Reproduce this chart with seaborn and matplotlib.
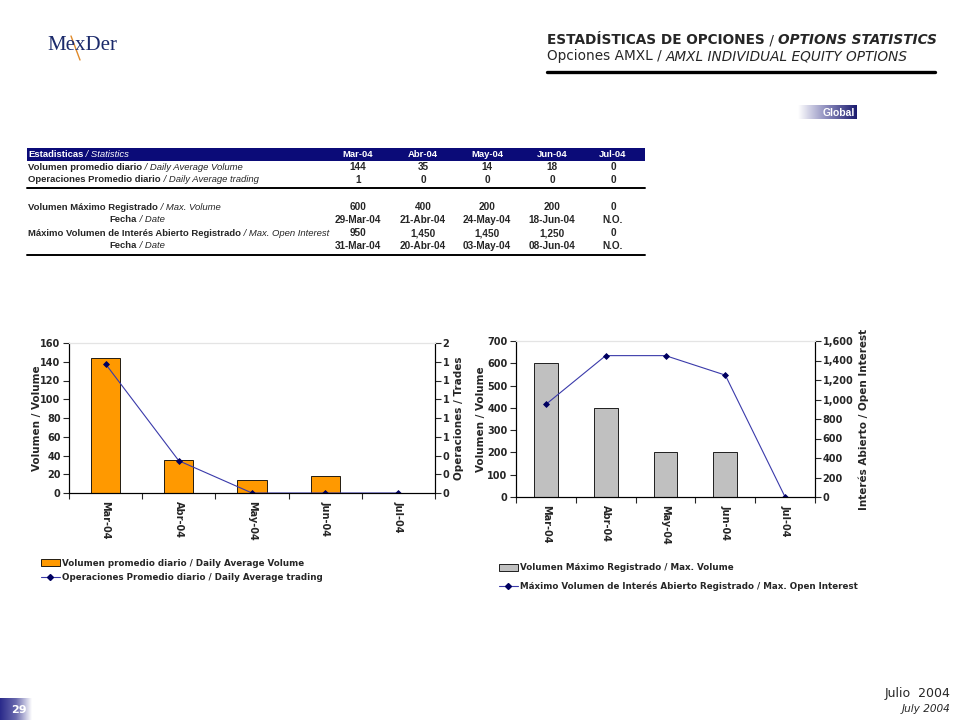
import matplotlib
matplotlib.use("Agg")
import matplotlib.pyplot as plt
from matplotlib.patches import Patch, Rectangle
from matplotlib.lines import Line2D
import numpy as np
import seaborn as sns

# data
months = ['Mar-04', 'Abr-04', 'May-04', 'Jun-04', 'Jul-04']
avg_volume = [144, 35, 14, 18, 0]
avg_trades_tbl = [1, 0, 0, 0, 0]
avg_trades = [1.72, 0.43, 0, 0, 0]
max_volume = [600, 400, 200, 200, 0]
max_vol_date = ['29-Mar-04', '21-Abr-04', '24-May-04', '18-Jun-04', 'N.O.']
max_oi = [950, 1450, 1450, 1250, 0]
max_oi_date = ['31-Mar-04', '20-Abr-04', '03-May-04', '08-Jun-04', 'N.O.']

vol_ticks = [0, 20, 40, 60, 80, 100, 120, 140, 160]
trade_ticks = [0, 0.25, 0.5, 0.75, 1, 1.25, 1.5, 1.75, 2]
trade_ticklabels = ['0', '0', '0', '1', '1', '1', '1', '1', '2']
maxvol_ticks = [0, 100, 200, 300, 400, 500, 600, 700]
oi_ticks = [0, 200, 400, 600, 800, 1000, 1200, 1400, 1600]

sns.set_style('white')
plt.rcParams['font.family'] = ['DejaVu Sans']

W, H = 960, 720
fig = plt.figure(figsize=(9.6, 7.2), dpi=100)
renderer = fig.canvas.get_renderer()
NAVY = '#0B0B78'
LINE_C = '#3A3AAA'
MARK_C = '#000060'
NARROW = ['Liberation Sans', 'DejaVu Sans']


def fx(x):
    return x / W


def fy(y):
    return 1 - y / H


def runs(x, y, parts, ha='left', **kw):
    # draw text pieces one after another with different styles
    x0 = x
    items = []
    for txt, st in parts:
        t = fig.text(fx(x0), fy(y), txt, va='center', ha='left', **kw, **st)
        w = t.get_window_extent(renderer).width
        items.append(t)
        x0 += w
    if ha != 'left':
        total = x0 - x
        shift = total if ha == 'right' else total / 2
        for t in items:
            px, py = t.get_position()
            t.set_position((px - shift / W, py))


# header
runs(547, 40, [('ESTADÍSTICAS DE OPCIONES', dict(weight='bold')),
               (' / ', dict()),
               ('OPTIONS STATISTICS', dict(weight='bold', style='italic'))],
     fontsize=9.8)
runs(547, 56, [('Opciones AMXL / ', dict()),
               ('AMXL INDIVIDUAL EQUITY OPTIONS', dict(style='italic'))],
     fontsize=9.8)
fig.add_artist(Line2D([fx(547), fx(935)], [fy(72), fy(72)], color='black', lw=2.4))

# logo
fig.text(fx(47), fy(45), 'MexDer', family=['Liberation Serif'], fontsize=15,
         color='#1B2A6B', va='center', ha='left')
fig.add_artist(Line2D([fx(71), fx(80)], [fy(36), fy(60)], color='#E08A2A', lw=1.0))

# Global badge
gax = fig.add_axes([fx(798), fy(119), fx(59), 14 / H])
grad = np.linspace(0, 1, 256).reshape(1, -1)
gax.imshow(grad, aspect='auto', cmap=matplotlib.colors.LinearSegmentedColormap.from_list(
    'g', ['#FFFFFF', '#8888BB', '#1A1A6E']), extent=[0, 1, 0, 1])
gax.set_axis_off()
gax.text(0.96, 0.45, 'Global', color='white', weight='bold', fontsize=7.5,
         ha='right', va='center', family=NARROW, transform=gax.transAxes)

# page number
pax = fig.add_axes([0, 0, fx(32), 22 / H])
pax.imshow(grad, aspect='auto', cmap=matplotlib.colors.LinearSegmentedColormap.from_list(
    'p', ['#2A2A8A', '#6A6AAE', '#FFFFFF']), extent=[0, 1, 0, 1])
pax.set_axis_off()
pax.text(0.6, 0.45, '29', color='white', weight='bold', fontsize=8,
         ha='center', va='center', transform=pax.transAxes)

fig.text(fx(950), fy(694), 'Julio  2004', ha='right', va='center', fontsize=9)
fig.text(fx(950), fy(709), 'July 2004', ha='right', va='center', fontsize=7.6, style='italic')

# table
col_x = [358, 423, 487, 552, 613]
fig.add_artist(Rectangle((fx(27), fy(161)), fx(618), 13 / H, color=NAVY, lw=0))
tfs = 6.8
vfs = 7.2
runs(28, 154.5, [('Estadisticas', dict(weight='bold')), (' / Statistics', dict(style='italic'))],
     fontsize=tfs, color='white', family=NARROW)
for cx, m in zip(col_x, months):
    fig.text(fx(cx), fy(154.5), m, color='white', weight='bold', fontsize=tfs,
             ha='center', va='center', family=NARROW)

rows = [
    (167, 'left', 'Volumen promedio diario', 'Daily Average Volume', [str(v) for v in avg_volume]),
    (180, 'left', 'Operaciones Promedio diario', 'Daily Average trading', [str(v) for v in avg_trades_tbl]),
    (207, 'left', 'Volumen Máximo Registrado', 'Max. Volume', [str(v) for v in max_volume]),
    (220, 'center', 'Fecha', 'Date', max_vol_date),
    (233, 'left', 'Máximo Volumen de Interés Abierto Registrado', 'Max. Open Interest', [f'{v:,}' for v in max_oi]),
    (246, 'center', 'Fecha', 'Date', max_oi_date),
]
for y, al, es, en, vals in rows:
    x = 28 if al == 'left' else 137
    runs(x, y, [(es, dict(weight='bold')), (' / ' + en, dict(style='italic'))],
         ha=al, fontsize=tfs, family=NARROW)
    for cx, v in zip(col_x, vals):
        fig.text(fx(cx), fy(y), v, weight='bold', fontsize=vfs, ha='center',
                 va='center', family=NARROW)
for y in (188, 255):
    fig.add_artist(Line2D([fx(27), fx(645)], [fy(y), fy(y)], color='black', lw=1.4))

FS = 7
LFS = 6.3


def style_axes(ax, ax2):
    ax.set_xlim(-0.5, len(months) - 0.5)
    ax.set_xticks(range(len(months)))
    ax.set_xticklabels(months, rotation=270, fontsize=FS, weight='bold')
    ax.set_xticks(np.arange(-0.5, len(months)), minor=True)
    ax.tick_params(axis='x', which='major', length=0, pad=6)
    ax.tick_params(axis='x', which='minor', length=4, width=0.8, direction='out', bottom=True)
    ax.tick_params(axis='y', length=4, width=0.8, direction='out', left=True, labelsize=FS, pad=2)
    ax2.tick_params(axis='y', length=4, width=0.8, direction='out', right=True, labelsize=FS, pad=1.5)
    for a in (ax, ax2):
        for lab in a.get_yticklabels():
            lab.set_weight('bold')
        for s in a.spines.values():
            s.set_linewidth(0.8)
            s.set_color('black')
    ax.spines['top'].set_color('#E4E4E4')
    ax2.spines['top'].set_color('#E4E4E4')
    ax.set_xlabel('')
    ax2.set_xlabel('')


# left chart
ax = fig.add_axes([fx(69), fy(493), fx(366), 150 / H])
sns.barplot(x=months, y=avg_volume, ax=ax, color='#FF9900', saturation=1,
            edgecolor='black', linewidth=0.6, width=0.4)
ax2 = ax.twinx()
sns.pointplot(x=months, y=avg_trades, ax=ax2, color=LINE_C, markers='D',
              markersize=3, linewidth=0.8, errorbar=None,
              markerfacecolor=MARK_C, markeredgecolor=MARK_C)
ax.set_ylim(0, 160)
ax.set_yticks(vol_ticks)
ax.set_yticklabels([str(v) for v in vol_ticks])
ax2.set_ylim(0, 2)
ax2.set_yticks(trade_ticks)
ax2.set_yticklabels(trade_ticklabels)
ax2.set_zorder(ax.get_zorder() + 1)
ax2.patch.set_visible(False)
style_axes(ax, ax2)
ax.set_ylabel('Volumen / Volume', fontsize=FS + 0.5, weight='bold', labelpad=-1)
ax2.set_ylabel('Operaciones / Trades', fontsize=FS + 0.5, weight='bold', labelpad=3)

h1 = [Patch(facecolor='#FF9900', edgecolor='black', linewidth=0.6),
      Line2D([], [], color=LINE_C, lw=0.8, marker='D', markersize=3,
             markerfacecolor=MARK_C, markeredgecolor=MARK_C)]
fig.legend(h1, ['Volumen promedio diario / Daily Average Volume',
                'Operaciones Promedio diario / Daily Average trading'],
           loc='upper left', bbox_to_anchor=(fx(37), fy(555)), frameon=False,
           prop=dict(size=LFS, weight='bold'), handlelength=2.2, handleheight=0.8,
           handletextpad=0.2, labelspacing=0.65, borderaxespad=0)

# right chart
bx = fig.add_axes([fx(516), fy(497), fx(299), 156 / H])
sns.barplot(x=months, y=max_volume, ax=bx, color='#C0C0C0', saturation=1,
            edgecolor='black', linewidth=0.6, width=0.4)
bx2 = bx.twinx()
sns.pointplot(x=months, y=max_oi, ax=bx2, color=LINE_C, markers='D',
              markersize=3, linewidth=0.8, errorbar=None,
              markerfacecolor=MARK_C, markeredgecolor=MARK_C)
bx.set_ylim(0, 700)
bx.set_yticks(maxvol_ticks)
bx.set_yticklabels([str(v) for v in maxvol_ticks])
bx2.set_ylim(0, 1600)
bx2.set_yticks(oi_ticks)
bx2.set_yticklabels([f'{v:,}' for v in oi_ticks])
bx2.set_zorder(bx.get_zorder() + 1)
bx2.patch.set_visible(False)
style_axes(bx, bx2)
bx.set_ylabel('Volumen / Volume', fontsize=FS + 0.5, weight='bold', labelpad=1)
bx2.set_ylabel('Interés Abierto / Open Interest', fontsize=FS + 0.5, weight='bold', labelpad=4)

h2 = [Patch(facecolor='#C0C0C0', edgecolor='black', linewidth=0.6),
      Line2D([], [], color=LINE_C, lw=0.8, marker='D', markersize=3,
             markerfacecolor=MARK_C, markeredgecolor=MARK_C)]
fig.legend(h2, ['Volumen Máximo Registrado / Max. Volume',
                'Máximo Volumen de Interés Abierto Registrado / Max. Open Interest'],
           loc='upper left', bbox_to_anchor=(fx(495), fy(560)), frameon=False,
           prop=dict(size=LFS, weight='bold'), handlelength=2.2, handleheight=0.8,
           handletextpad=0.2, labelspacing=1.0, borderaxespad=0)

fig.savefig('out.png', dpi=100, facecolor='white')
